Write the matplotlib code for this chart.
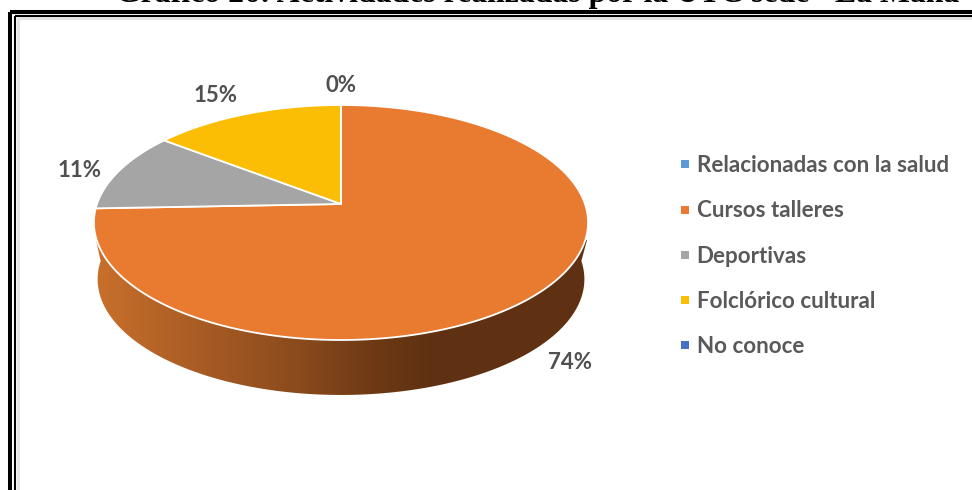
import matplotlib
matplotlib.use('Agg')
import matplotlib.pyplot as plt
from matplotlib.patches import Polygon, Rectangle
import numpy as np

categories = ['Relacionadas con la salud', 'Cursos talleres', 'Deportivas', 'Folclórico cultural', 'No conoce']
values = [0, 74.4, 11.0, 14.6, 0]
colors = ['#5B9BD5', '#E97B31', '#A5A5A5', '#FBBE04', '#4472C4']
title = 'Gráfico 26: Actividades realizadas por la UTC sede "La Maná"'

text_color = '#595959'
label_font = 'Lato'

# pie drawn with a simple perspective, coordinates are image pixels
cx, cy = 341, 204
g, h, c = 244, 114.6, 0.1574


def rim(t, scale=1.0, dy=0.0):
    # t = clockwise angle from the top, radians
    u, v = np.sin(t), np.cos(t)
    w = 1 + c * v
    return cx + g * scale * u / w, cy + dy - h * scale * v / w


fig = plt.figure(figsize=(9.72, 4.9), dpi=100)
ax = fig.add_axes([0, 0, 1, 1])

# side wall with gradient, top face goes over it
t = np.linspace(np.pi * 0.5, np.pi * 1.5, 200)
bx, by = rim(t, 0.985, 57)
wall_x = np.r_[587, bx, 96]
wall_y = np.r_[240, by, 240]
wall = Polygon(np.c_[wall_x, wall_y], closed=True, fc='none', ec='none')
ax.add_patch(wall)
stops_x = [96, 200, 300, 370, 430, 590]
stops_r = [0xC9, 0xA8, 0x8A, 0x6F, 0x5F, 0x5F]
stops_g = [0x6F, 0x5C, 0x4A, 0x3A, 0x31, 0x31]
stops_b = [0x2C, 0x24, 0x1C, 0x15, 0x12, 0x12]
xs = np.arange(96, 591)
grad = np.dstack([np.interp(xs, stops_x, s) / 255 for s in (stops_r, stops_g, stops_b)])
im = ax.imshow(grad, extent=[96, 590, 400, 220], aspect='auto', zorder=1)
im.set_clip_path(wall)

# top face wedges from the values
start = 0.0
total = sum(values)
for val, col in zip(values, colors):
    end = start + val / total * 2 * np.pi
    t = np.linspace(start, end, 200)
    x, y = rim(t)
    ax.add_patch(Polygon(np.c_[np.r_[cx, x], np.r_[cy, y]], closed=True, fc=col,
                         ec='white', lw=1.3, joinstyle='round', zorder=2))
    start = end

# percent labels
label_pos = [(341, 86), (570, 362), (80, 170), (216, 95)]
for (lx, ly), val in zip(label_pos, values[:4]):
    ax.text(lx, ly, f'{val:.0f}%', ha='center', va='center', fontsize=16, family=label_font,
            weight='bold', color='#505050', zorder=3)

# legend
legend_y = [165, 210.5, 256, 301, 346]
for name, col, ly in zip(categories, colors, legend_y):
    ax.add_patch(Rectangle((681, ly - 5), 8, 8, fc=col, ec='none'))
    ax.text(696.5, ly, name, ha='left', va='center', fontsize=16.1, family=label_font,
            weight='bold', color=text_color)

# double frame of the page, only top and left are visible
ax.plot([10, 10], [490, 12], color='black', lw=2.9, solid_capstyle='butt')
ax.plot([10, 972], [12, 12], color='black', lw=2.9, solid_capstyle='butt')
ax.plot([15, 15], [490, 16], color='black', lw=1.5, solid_capstyle='butt')
ax.plot([15, 972], [16, 16], color='black', lw=1.5, solid_capstyle='butt')
ax.plot([17.5, 17.5], [490, 18], color='#E4E4E4', lw=2, solid_capstyle='butt')
ax.plot([17.5, 972], [18, 18], color='#E4E4E4', lw=2, solid_capstyle='butt')

ax.text(116, 2, title, ha='left', va='baseline', fontsize=22.9, family='Liberation Serif',
        weight='bold', color='black')

ax.set_xlim(0, 972)
ax.set_ylim(490, 0)
ax.axis('off')
fig.savefig('out.png', dpi=100)
